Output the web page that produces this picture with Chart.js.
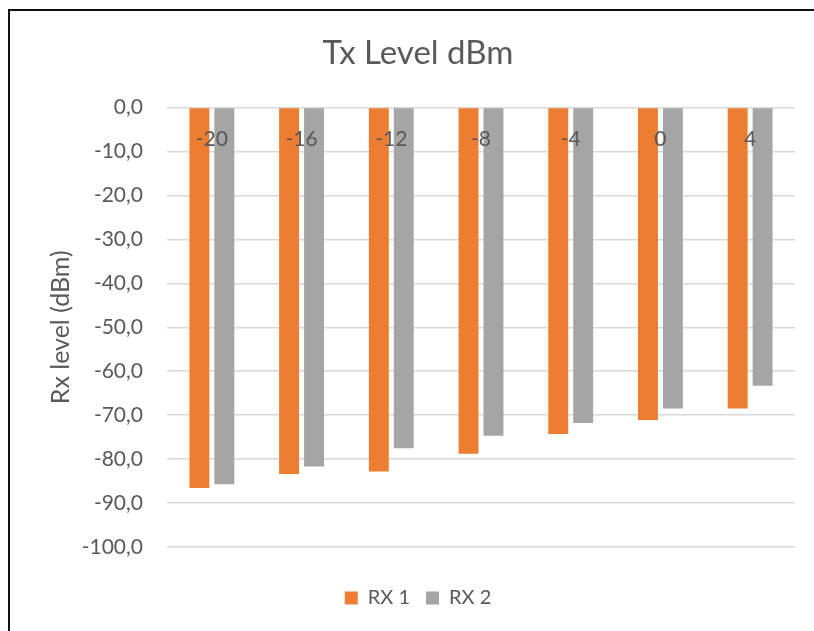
<!DOCTYPE html>
<html>
<head>
<meta charset="utf-8">
<style>
  html, body { margin: 0; padding: 0; background: #ffffff; }
  #wrap { position: relative; width: 814px; height: 631px; }
  canvas { display: block; }
</style>
<script src="https://cdn.jsdelivr.net/npm/chart.js@4/dist/chart.umd.min.js"></script>
</head>
<body>
<div id="wrap"><canvas id="chart" width="814" height="631"></canvas></div>
<script>
// Transmit levels (dBm) used as categories
const txLevels = ['-20', '-16', '-12', '-8', '-4', '0', '4'];
// Received levels (dBm) per receiver
const rx1Values = [-86.6, -83.4, -82.8, -78.8, -74.3, -71.1, -68.5];
const rx2Values = [-85.7, -81.7, -77.5, -74.7, -71.8, -68.5, -63.3];
// Value axis range
const yMin = -100;
const yMax = 0;
const yStep = 10;

const FONT = 'Lato, "Open Sans", "Liberation Sans", sans-serif';
const TEXT = '#595959';
const GRID = '#D9D9D9';

// Thin black frame around the chart (left and top edges visible)
const framePlugin = {
  id: 'frame',
  afterDraw(chart) {
    const ctx = chart.ctx;
    ctx.save();
    ctx.strokeStyle = '#111111';
    ctx.lineWidth = 2;
    ctx.beginPath();
    ctx.moveTo(9, chart.height + 2);
    ctx.lineTo(9, 10);
    ctx.lineTo(chart.width + 2, 10);
    ctx.stroke();
    ctx.restore();
  }
};

new Chart(document.getElementById('chart'), {
  type: 'bar',
  data: {
    labels: txLevels,
    datasets: [
      { label: 'RX 1', data: rx1Values, backgroundColor: '#ED7D31', borderWidth: 0 },
      { label: 'RX 2', data: rx2Values, backgroundColor: '#A5A5A5', borderWidth: 0 }
    ]
  },
  options: {
    responsive: false,
    animation: false,
    maintainAspectRatio: false,
    categoryPercentage: 0.5556,
    barPercentage: 0.8,
    layout: { padding: { left: 41, right: 19, top: 0, bottom: 13 } },
    plugins: {
      title: {
        display: true,
        text: 'Tx Level dBm',
        color: TEXT,
        font: { family: FONT, size: 33, weight: 'normal' },
        padding: { top: 34, bottom: 34 }
      },
      legend: {
        position: 'bottom',
        title: { display: true, text: '', font: { size: 10 }, padding: { top: 0, bottom: 13 } },
        labels: {
          color: TEXT,
          font: { family: FONT, size: 20 },
          boxWidth: 13,
          boxHeight: 13,
          padding: 16
        }
      },
      tooltip: { enabled: false }
    },
    scales: {
      x: {
        position: { y: 0 },
        grid: { display: false, drawTicks: false },
        border: { display: false },
        ticks: {
          z: 1,
          color: TEXT,
          font: { family: FONT, size: 21 },
          padding: 19
        }
      },
      y: {
        min: yMin,
        max: yMax,
        afterFit(scale) { scale.width = 126; },
        grid: { color: GRID, lineWidth: 1.5, drawTicks: false },
        border: { display: false },
        ticks: {
          stepSize: yStep,
          color: TEXT,
          font: { family: FONT, size: 21 },
          padding: 24,
          callback: (v) => v.toFixed(1).replace('.', ',')
        },
        title: {
          display: true,
          text: 'Rx level (dBm)',
          color: TEXT,
          font: { family: FONT, size: 25 },
          padding: { top: 5, bottom: 0 }
        }
      }
    }
  },
  plugins: [framePlugin]
});
</script>
</body>
</html>
